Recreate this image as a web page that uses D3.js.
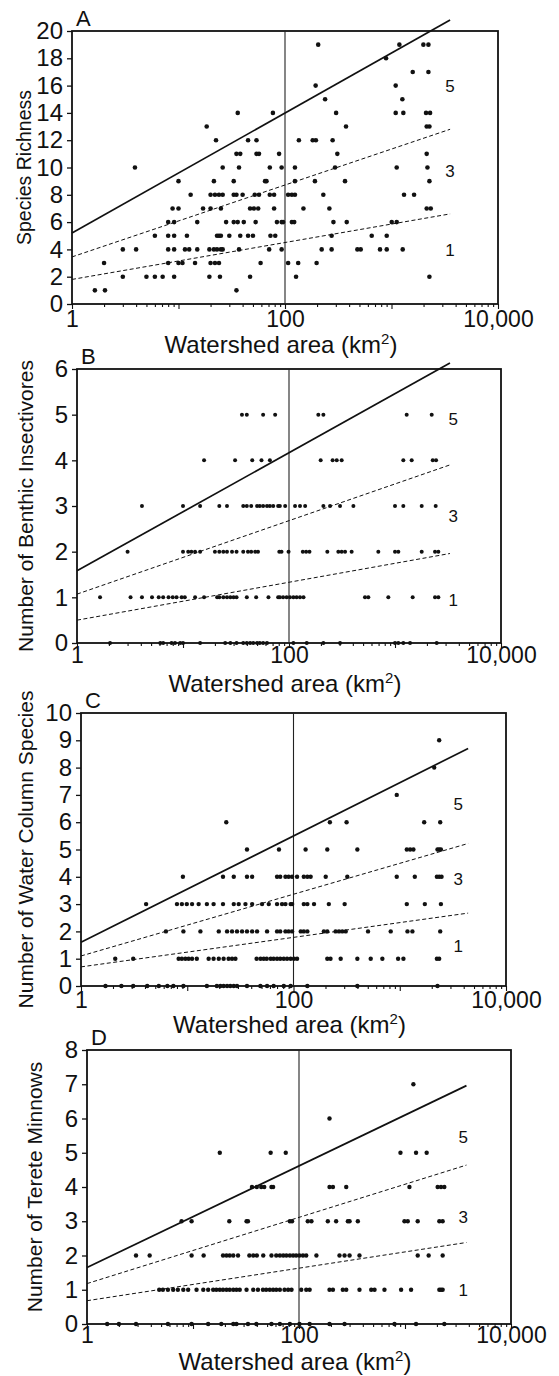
<!DOCTYPE html>
<html>
<head>
<meta charset="utf-8">
<script src="https://cdn.jsdelivr.net/npm/d3@7"></script>
<style>
  body { margin: 0; background: #fff; }
  svg { display: block; background: #fff; }
  text { font-family: "Liberation Sans", Arial, Helvetica, sans-serif; fill: #111; }
</style>
</head>
<body>
<svg id="chart" width="559" height="1376"></svg>
<script>
// x axis labels (watershed area, km2)
const tickAreas = [1, 100, 10000];
const tickNames = ["1", "100", "10,000"];

// each row: [count, watershed areas of the sites with that count]
const richness = [
  [1, [1.64, 2.04, 35]],
  [2, [3.0, 5.0, 6.0, 7.1, 9.1, 19.5, 24.5, 47, 127, 2270]],
  [3, [2.0, 8.0, 10, 10.9, 14.3, 20, 22, 24, 59, 107, 133, 198]],
  [4, [3.0, 4.0, 8.0, 9.1, 11.5, 12.6, 15, 19.5, 21.5, 23, 25, 26, 37, 71, 93, 221, 274, 478, 514, 780, 902, 1274]],
  [5, [6.0, 8.0, 9.1, 12, 23, 24, 25, 30, 38, 45, 50, 73, 81, 274, 652, 902]],
  [6, [8.0, 9.1, 15, 28, 33, 36, 41, 53, 84, 93, 96, 116, 122, 285, 380, 1005, 1119]],
  [7, [8.8, 10, 17, 20, 25, 47, 51, 56, 79, 149, 261, 2140, 2337]],
  [8, [13, 20, 22, 24, 26, 33, 35, 40, 52, 57, 72, 79, 107, 116, 124, 229, 1311, 1629]],
  [9, [10, 21.5, 33, 65, 67, 124, 191, 366, 2270]],
  [10, [3.9, 26, 37, 72, 93, 124, 295, 1119, 2175]],
  [11, [35, 38, 54, 57, 88, 310, 2140]],
  [12, [22.5, 45, 54, 135, 182, 195, 280]],
  [13, [18.4, 374, 2140, 2270]],
  [14, [36, 77, 302, 1095, 1292, 2110, 2303]],
  [15, [238, 1265]],
  [16, [194, 1095]],
  [17, [1582, 2222]],
  [18, [889]],
  [19, [205, 1186, 1992, 2222]]
];

const benthic = [
  [0, [2.05, 6.1, 6.5, 7.8, 8.4, 9.4, 10, 14.5, 25, 28, 32, 37, 40, 43, 46, 50, 53, 57, 62, 110, 147, 211, 303, 1000, 1075, 1198, 1387, 2474]],
  [1, [1.65, 3.2, 4.1, 5.1, 5.9, 6.5, 7.3, 8.0, 8.7, 9.7, 10.4, 13, 15.8, 21, 22, 24, 26, 28, 30, 32, 40, 49, 64, 79, 82, 88, 95, 102, 110, 118, 127, 137, 521, 560, 865, 1468, 2385, 2564]],
  [2, [3.0, 10, 11.2, 12, 13, 14.5, 20, 22, 24, 26, 29, 32, 37, 41, 44, 48, 51, 81, 85, 99, 135, 145, 156, 230, 292, 314, 338, 390, 696, 1000, 1075, 1786, 2385, 2564]],
  [3, [4.1, 10, 14.5, 22, 26, 37, 40, 44, 50, 53, 57, 62, 66, 71, 79, 82, 92, 114, 127, 142, 211, 244, 303, 405, 1000, 1198, 1786, 2420]],
  [4, [15.8, 31, 45, 55, 66, 199, 258, 282, 314, 1198, 1437, 2270, 2440]],
  [5, [36, 40, 57, 74, 189, 211, 1289, 2220]]
];

const waterColumn = [
  [0, [1.7, 2.4, 3.1, 4.2, 5.4, 6.5, 7.4, 9.2, 15.3, 19, 20.5, 22, 23.7, 25.4, 27.4, 29.4, 36.5, 48.8, 56.4, 65, 81, 94, 135, 399, 2266]],
  [1, [2.1, 3.1, 8.3, 8.9, 9.6, 10.3, 11.1, 12.3, 15.9, 17.7, 19.8, 22, 24.5, 26.4, 28.4, 45, 49, 52.5, 56, 61, 65, 70, 75, 81, 87, 94, 101, 108, 208, 223, 278, 399, 533, 686, 965, 1083, 2236, 2350]],
  [2, [6.3, 9.2, 13.3, 19.8, 23.7, 26.4, 29.4, 32.8, 36.5, 40.8, 45.4, 56.4, 70, 75, 84, 90, 97, 117, 125, 135, 193, 208, 249, 268, 288, 310, 503, 822, 1182, 1316, 2403]],
  [3, [4.1, 8, 8.9, 9.9, 11.1, 12.8, 15.3, 17.7, 21.7, 27.4, 30.5, 35.3, 40.8, 50.6, 58.5, 70, 78, 84, 94, 97, 125, 135, 156, 215, 303, 1165, 1722, 2440]],
  [4, [9.1, 21.7, 27.4, 36.5, 40.8, 70, 75, 84, 90, 97, 108, 125, 135, 145, 201, 321, 937, 1386, 2236, 2350, 2474]],
  [5, [36.5, 73, 130, 208, 399, 1165, 1252, 1345, 2266, 2350, 2440]],
  [6, [23.3, 220, 316, 1698, 2403]],
  [7, [937]],
  [8, [2110]],
  [9, [2350]]
];

const terete = [
  [0, [1.55, 2.0, 2.9, 5.8, 9.7, 13.9, 18.5, 24, 25.7, 33, 39.6, 55, 66, 82, 101, 126, 194, 269, 796, 1271, 2350]],
  [1, [4.8, 5.2, 5.8, 6.5, 7.2, 8.1, 9.0, 10.8, 12.5, 13.9, 15.5, 16.6, 17.9, 19.2, 20.7, 22.2, 24, 25.7, 27.6, 32, 37, 41, 45.7, 49, 53, 57, 61, 66, 73, 79, 85, 105, 117, 126, 194, 209, 259, 279, 372, 480, 516, 640, 919, 1141, 2108, 2186, 2266]],
  [2, [2.9, 3.9, 9.7, 12.6, 19.2, 20.7, 22.2, 24, 26.6, 34, 37, 40, 46, 55, 61, 66, 71, 76, 82, 88, 94, 101, 109, 117, 146, 241, 269, 300, 372, 1318, 1672, 2266]],
  [3, [7.8, 9.7, 22, 32, 33, 82, 86, 121, 131, 187, 224, 289, 300, 359, 988, 1062, 1318, 2108, 2266]],
  [4, [36, 40, 44, 47, 55, 57, 194, 209, 279, 1101, 2033, 2186, 2350]],
  [5, [17.9, 54, 75, 906, 1271, 1601]],
  [6, [194]],
  [7, [1200]]
];

// quantile lines: [label, value at 1 km2, value at line end, style]
const richnessLines = [["5", 5.2, 20.8, "solid"], ["3", 3.45, 12.8, "dash"], ["1", 1.8, 6.6, "dash"]];
const benthicLines = [["5", 1.58, 6.13, "solid"], ["3", 1.07, 3.9, "dash"], ["1", 0.5, 1.96, "dash"]];
const waterLines = [["5", 1.6, 8.7, "solid"], ["3", 1.1, 5.22, "dash"], ["1", 0.7, 2.67, "dash"]];
const tereteLines = [["5", 1.65, 6.96, "solid"], ["3", 1.18, 4.64, "dash"], ["1", 0.68, 2.38, "dash"]];

// quantile label heights
const richnessNotes = [["5", 15.9], ["3", 9.7], ["1", 3.9]];
const benthicNotes = [["5", 4.9], ["3", 2.78], ["1", 0.94]];
const waterNotes = [["5", 6.66], ["3", 3.89], ["1", 1.43]];
const tereteNotes = [["5", 5.45], ["3", 3.12], ["1", 0.97]];

const panels = [
  {letter: "A", title: "Species Richness", rows: richness, lines: richnessLines, notes: richnessNotes,
   yMax: 20, yStep: 2, lineEnd: 3550, left: 72, right: 498, top: 31, bottom: 304, r: 2.3,
   titleX: 31, titleSize: 19.5, xPad: 4, xTitleGap: 49},
  {letter: "B", title: "Number of Benthic Insectivores", rows: benthic, lines: benthicLines, notes: benthicNotes,
   yMax: 6, yStep: 1, lineEnd: 3300, left: 77, right: 501, top: 369, bottom: 643, r: 2.0,
   titleX: 33, titleSize: 21, xPad: 1, xTitleGap: 49},
  {letter: "C", title: "Number of Water Column Species", rows: waterColumn, lines: waterLines, notes: waterNotes,
   yMax: 10, yStep: 1, lineEnd: 4400, left: 81, right: 506, top: 713, bottom: 986, r: 2.2,
   titleX: 33, titleSize: 21, xPad: 3, xTitleGap: 47},
  {letter: "D", title: "Number of Terete Minnows", rows: terete, lines: tereteLines, notes: tereteNotes,
   yMax: 8, yStep: 1, lineEnd: 3800, left: 87, right: 511, top: 1050, bottom: 1324, r: 2.2,
   titleX: 42, titleSize: 21, xPad: 0, xTitleGap: 46}
];

const svg = d3.select("#chart");
const decades = [1, 10, 100, 1000, 10000];
const xTicks = [];
for (let e = 0; e < 4; e++) for (let m = 1; m < 10; m++) xTicks.push(m * Math.pow(10, e));
xTicks.push(10000);

panels.forEach(p => {
  const x = d3.scaleLog().domain([1, 10000]).range([p.left, p.right]);
  const y = d3.scaleLinear().domain([0, p.yMax]).range([p.bottom, p.top]);
  const g = svg.append("g");

  // x axis, log ticks outward
  g.append("g")
    .attr("transform", `translate(0,${p.bottom})`)
    .call(d3.axisBottom(x).tickValues(xTicks).tickSize(3).tickPadding(p.xPad)
      .tickFormat(d => { const i = tickAreas.indexOf(d); return i < 0 ? "" : tickNames[i]; }))
    .attr("font-size", 23).attr("font-family", null)
    .call(a => a.select(".domain").remove())
    .call(a => a.selectAll(".tick line").attr("stroke", "#111").attr("stroke-width", 1.1))
    .call(a => a.selectAll(".tick line").filter(d => decades.includes(d)).attr("y2", 5));

  g.append("g")
    .attr("transform", `translate(${p.left},0)`)
    .call(d3.axisLeft(y).tickValues(d3.range(0, p.yMax + 0.01, p.yStep))
      .tickFormat(d3.format("d")).tickSize(5).tickPadding(4))
    .attr("font-size", 24).attr("font-family", null)
    .call(a => a.select(".domain").remove())
    .call(a => a.selectAll(".tick line").attr("stroke", "#111").attr("stroke-width", 1.3));

  // frame and 100 km2 reference line
  g.append("rect")
    .attr("x", p.left).attr("y", p.top)
    .attr("width", p.right - p.left).attr("height", p.bottom - p.top)
    .attr("fill", "none").attr("stroke", "#111").attr("stroke-width", 1.8);

  g.append("line")
    .attr("x1", x(100)).attr("x2", x(100))
    .attr("y1", p.top).attr("y2", p.bottom)
    .attr("stroke", "#222").attr("stroke-width", 1.1);

  // quantile regression lines
  const line = d3.line().x(d => x(d[0])).y(d => y(d[1]));
  g.selectAll(".qline")
    .data(p.lines)
    .enter()
    .append("path")
    .attr("d", d => line([[1, d[1]], [p.lineEnd, d[2]]]))
    .attr("fill", "none")
    .attr("stroke", "#111")
    .attr("stroke-width", d => d[3] === "solid" ? 1.7 : 1)
    .attr("stroke-dasharray", d => d[3] === "solid" ? null : "4,2.5");

  const pts = p.rows.flatMap(([n, areas]) => areas.map(a => ({area: a, n: n})));
  g.selectAll("circle")
    .data(pts)
    .enter()
    .append("circle")
    .attr("cx", d => x(d.area))
    .attr("cy", d => y(d.n))
    .attr("r", p.r)
    .attr("fill", "#111");

  g.selectAll(".note")
    .data(p.notes)
    .enter()
    .append("text")
    .attr("x", x(3550))
    .attr("y", d => y(d[1]))
    .attr("text-anchor", "middle")
    .attr("dominant-baseline", "central")
    .attr("font-size", 17)
    .text(d => d[0]);

  g.append("text")
    .attr("x", p.left + 4).attr("y", p.top - 5)
    .attr("font-size", 22)
    .text(p.letter);

  const xt = g.append("text")
    .attr("x", x(100) - 4).attr("y", p.bottom + p.xTitleGap)
    .attr("text-anchor", "middle")
    .attr("font-size", 24);
  xt.append("tspan").text("Watershed area (km");
  xt.append("tspan").attr("font-size", 15).attr("dy", -9).text("2");
  xt.append("tspan").attr("dy", 9).text(")");

  g.append("text")
    .attr("transform", `translate(${p.titleX},${(p.top + p.bottom) / 2}) rotate(-90)`)
    .attr("text-anchor", "middle")
    .attr("font-size", p.titleSize)
    .text(p.title);
});
</script>
</body>
</html>
